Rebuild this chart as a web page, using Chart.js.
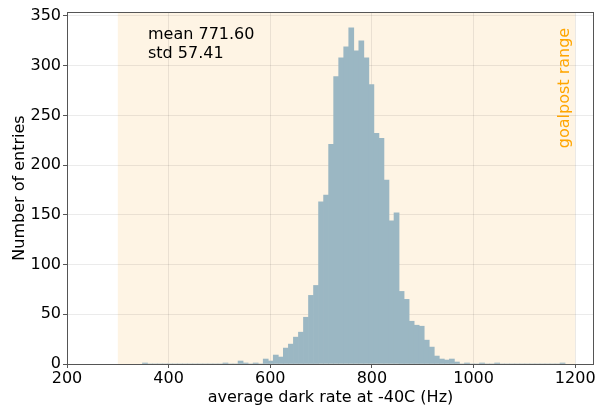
<!DOCTYPE html>
<html>
<head>
<meta charset="utf-8">
<script src="https://cdn.jsdelivr.net/npm/chart.js@4.4.0/dist/chart.umd.min.js"></script>
<style>
  html, body { margin: 0; padding: 0; background: #fff; }
  #wrap { width: 595px; height: 408px; }
</style>
</head>
<body>
<div id="wrap"><canvas id="chart" width="595" height="408"></canvas></div>
<script>
// histogram bins (Hz)
const binStart = 348.5;
const binWidth = 9.9;
const counts = [
    1, 0, 0, 0, 0, 0, 0, 0, 0, 0,
    0, 0, 0, 0, 0, 0, 1, 0, 0, 3,
    1, 0, 1, 0, 5, 3, 9, 7, 16, 20,
    27, 32, 47, 69, 79, 163, 170, 221, 289, 308,
    319, 338, 315, 325, 308, 281, 232, 227, 185, 144,
    152, 73, 65, 43, 39, 38, 24, 17, 8, 5,
    4, 5, 2, 0, 1, 0, 0, 1, 0, 0,
    1, 0, 0, 0, 0, 0, 0, 0, 0, 0,
    0, 0, 0, 1
];
const xTicks = [200, 400, 600, 800, 1000, 1200];
const yTicks = [0, 50, 100, 150, 200, 250, 300, 350];
const goalpost = [300, 1200];
const statsLines = ['mean 771.60', 'std 57.41'];
const xTitle = 'average dark rate at -40C (Hz)';
const yTitle = 'Number of entries';

const FONT = 'DejaVu Sans';
const AXIS_COLOR = '#555555';
const GRID_COLOR = 'rgba(0, 0, 0, 0.08)';

const points = counts.map((c, i) => ({ x: binStart + binWidth * (i + 0.5), y: c }));

const decorPlugin = {
    id: 'decor',
    beforeDraw(chart) {
        const { ctx, chartArea, scales } = chart;
        const x0 = scales.x.getPixelForValue(goalpost[0]);
        const x1 = scales.x.getPixelForValue(goalpost[1]);
        ctx.save();
        ctx.fillStyle = '#fef4e4';
        ctx.fillRect(x0, chartArea.top, x1 - x0, chartArea.bottom - chartArea.top);
        ctx.restore();
    },
    afterDraw(chart) {
        const { ctx, chartArea, scales } = chart;
        ctx.save();
        // frame
        ctx.strokeStyle = AXIS_COLOR;
        ctx.lineWidth = 1;
        ctx.strokeRect(chartArea.left + 0.5, chartArea.top + 0.5,
            chartArea.right - chartArea.left - 1, chartArea.bottom - chartArea.top);

        // goalpost label
        const xr = scales.x.getPixelForValue(goalpost[1]);
        ctx.fillStyle = '#ffa500';
        ctx.font = `16px "${FONT}"`;
        ctx.translate(xr - 6, chartArea.top + 76);
        ctx.rotate(-Math.PI / 2);
        ctx.textAlign = 'center';
        ctx.textBaseline = 'alphabetic';
        ctx.fillText('goalpost range', 0, 0);
        ctx.restore();

        // stats box
        ctx.save();
        ctx.fillStyle = '#000';
        ctx.font = `16px "${FONT}"`;
        ctx.textAlign = 'left';
        ctx.textBaseline = 'middle';
        statsLines.forEach((line, i) => {
            ctx.fillText(line, chartArea.left + 81, chartArea.top + 23 + i * 18.5);
        });
        ctx.restore();
    }
};

function fixedTicks(values) {
    return function (scale) {
        scale.ticks = values.map(v => ({ value: v }));
    };
}

new Chart(document.getElementById('chart').getContext('2d'), {
    type: 'bar',
    data: {
        datasets: [{
            data: points,
            backgroundColor: '#9bb7c3',
            borderWidth: 0,
            barPercentage: 1,
            categoryPercentage: 1,
            grouped: false
        }]
    },
    options: {
        responsive: false,
        animation: false,
        events: [],
        layout: { padding: { left: 0, right: 1, top: 12, bottom: 0 } },
        plugins: {
            legend: { display: false },
            tooltip: { enabled: false }
        },
        scales: {
            x: {
                type: 'linear',
                offset: false,
                min: 200,
                max: 1237,
                afterBuildTicks: fixedTicks(xTicks),
                afterFit(scale) {
                    scale.height = 44;
                    scale.paddingLeft = 0;
                    scale.paddingRight = 0;
                },
                ticks: {
                    color: '#000',
                    font: { family: FONT, size: 16 },
                    padding: 1,
                    maxRotation: 0,
                    autoSkip: false,
                    callback: v => String(v)
                },
                grid: {
                    offset: false,
                    color: GRID_COLOR,
                    borderDash: [3, 3],
                    tickColor: AXIS_COLOR,
                    tickBorderDash: [],
                    tickLength: 4
                },
                border: { display: false },
                title: {
                    display: true,
                    text: xTitle,
                    color: '#000',
                    font: { family: FONT, size: 16 },
                    padding: { top: 0, bottom: 1 }
                }
            },
            y: {
                min: 0,
                max: 354,
                afterBuildTicks: fixedTicks(yTicks),
                afterFit(scale) {
                    scale.width = 67;
                    scale.paddingTop = 0;
                    scale.paddingBottom = 0;
                },
                ticks: {
                    color: '#000',
                    font: { family: FONT, size: 16 },
                    padding: 2,
                    callback: v => String(v)
                },
                grid: {
                    color: GRID_COLOR,
                    borderDash: [3, 3],
                    tickColor: AXIS_COLOR,
                    tickBorderDash: [],
                    tickLength: 4
                },
                border: { display: false },
                title: {
                    display: true,
                    text: yTitle,
                    color: '#000',
                    font: { family: FONT, size: 16 },
                    padding: { top: 10, bottom: 0 }
                }
            }
        }
    },
    plugins: [decorPlugin]
});
</script>
</body>
</html>
